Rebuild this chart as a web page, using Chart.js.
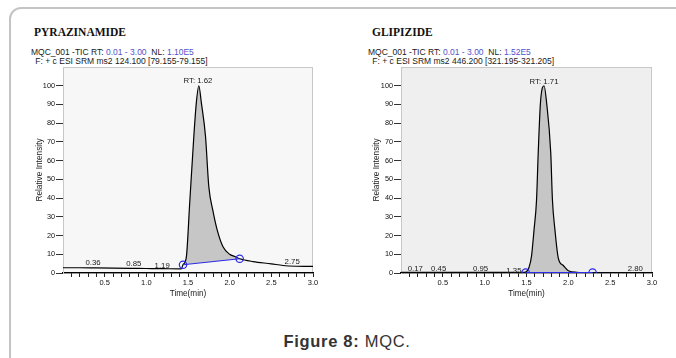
<!DOCTYPE html>
<html>
<head>
<meta charset="utf-8">
<script src="https://cdn.jsdelivr.net/npm/chart.js@4.4.1/dist/chart.umd.min.js"></script>
<style>
  body { margin: 0; width: 676px; height: 358px; overflow: hidden; background: #fff; position: relative; font-family: "Liberation Sans", Arial, sans-serif; }
  .frame { position: absolute; left: 9px; top: 7px; width: 720px; height: 420px; border: 2px solid #c4c4c4; border-radius: 12px; box-sizing: border-box; }
  .ttl { position: absolute; font: bold 11.5px "Liberation Serif", "Times New Roman", serif; color: #111; line-height: 12px; }
  .hdr { position: absolute; font-size: 8.5px; color: #1a1a1a; white-space: pre; line-height: 9px; }
  .hdr .b { color: #5252cc; }
  canvas { position: absolute; }
  .cap { position: absolute; left: 0; width: 694px; top: 332px; text-align: center; font-size: 16.5px; letter-spacing: 0.7px; line-height: 18px; color: #333; }
</style>
</head>
<body>
<div class="frame"></div>

<div class="ttl" style="left:34px; top:26px;">PYRAZINAMIDE</div>
<div class="hdr" style="left:31px; top:48px;">MQC_001 -TIC RT: <span class="b">0.01 - 3.00</span>  NL: <span class="b">1.10E5</span></div>
<div class="hdr" style="left:33px; top:57px;"> F: + c ESI SRM ms2 124.100 [79.155-79.155]</div>

<div class="ttl" style="left:372px; top:26px;">GLIPIZIDE</div>
<div class="hdr" style="left:368px; top:48px;">MQC_001 -TIC RT: <span class="b">0.01 - 3.00</span>  NL: <span class="b">1.52E5</span></div>
<div class="hdr" style="left:370px; top:57px;"> F: + c ESI SRM ms2 446.200 [321.195-321.205]</div>

<canvas id="pyr" width="340" height="245" style="left:0px; top:60px;"></canvas>
<canvas id="gli" width="336" height="245" style="left:340px; top:60px;"></canvas>

<div class="cap"><b>Figure 8:</b> MQC.</div>

<script>
// Pyrazinamide chromatogram (time in min, relative intensity %)
const pyrTime = [0, 0.2, 0.4, 0.6, 0.8, 1.0, 1.2, 1.42, 1.44, 1.48, 1.52, 1.57, 1.60, 1.63, 1.66, 1.71, 1.75, 1.80, 1.85, 1.92, 2.0, 2.06, 2.12, 2.28, 2.5, 2.64, 2.8, 3.0];
const pyrInt  = [2.8, 2.8, 2.7, 2.6, 2.5, 2.4, 2.3, 2.2, 4.4, 8.5, 37, 73, 91, 100, 91, 73, 46, 33, 23, 14, 10, 8.8, 7.6, 6.1, 4.9, 4.0, 3.6, 3.5];
// integration baseline (start, end)
const pyrBaseTime = [1.44, 2.12];
const pyrBaseInt  = [4.4, 7.6];
// apex labels
const pyrLabelTime = [0.36, 0.85, 1.19, 2.75];
const pyrLabelInt  = [5.6, 5.1, 3.9, 6.2];
const pyrRT = [1.62, 102.5];

// Glipizide chromatogram
const gliTime = [0, 0.5, 1.0, 1.45, 1.49, 1.53, 1.56, 1.59, 1.62, 1.64, 1.667, 1.71, 1.74, 1.79, 1.81, 1.84, 1.88, 1.94, 2.0, 2.1, 2.29, 2.6, 3.0];
const gliInt  = [0.3, 0.3, 0.3, 0.3, 0.5, 3, 9, 23, 39, 64, 91, 100, 91, 64, 39, 23, 8, 4, 1.2, 0.4, 0.2, 0.2, 0.2];
const gliBaseTime = [1.49, 2.29];
const gliBaseInt  = [0.2, 0.2];
const gliLabelTime = [0.17, 0.45, 0.95, 1.35, 2.80];
const gliLabelInt  = [2.1, 2.1, 2.1, 1.1, 2.1];
const gliRT = [1.71, 102];

// Axis ticks
const xTicks = [0.1, 0.2, 0.3, 0.4, 0.5, 0.6, 0.7, 0.8, 0.9, 1.0, 1.1, 1.2, 1.3, 1.4, 1.5, 1.6, 1.7, 1.8, 1.9, 2.0,
                2.1, 2.2, 2.3, 2.4, 2.5, 2.6, 2.7, 2.8, 2.9, 3.0];
const yTicks = [0, 10, 20, 30, 40, 50, 60, 70, 80, 90, 100];

const FONT = '"Liberation Sans", Arial, sans-serif';

// Plot box background + light border
const plotBox = {
  id: 'plotBox',
  beforeDraw(chart, args, opts) {
    const { ctx, chartArea: a } = chart;
    ctx.save();
    ctx.fillStyle = opts.bg;
    ctx.fillRect(a.left, a.top, a.right - a.left, a.bottom - a.top);
    ctx.strokeStyle = '#c8c8c8';
    ctx.lineWidth = 1;
    ctx.strokeRect(a.left + 0.5, a.top + 0.5, a.right - a.left - 1, a.bottom - a.top);
    ctx.restore();
  }
};

// Peak time labels drawn at data positions
const peakLabels = {
  id: 'peakLabels',
  afterDatasetsDraw(chart, args, opts) {
    const { ctx, scales: { x, y } } = chart;
    ctx.save();
    ctx.fillStyle = '#1a1a1a';
    ctx.font = '7.8px ' + FONT;
    ctx.textAlign = 'center';
    ctx.textBaseline = 'middle';
    opts.times.forEach((t, i) => {
      ctx.fillText(t.toFixed(2), x.getPixelForValue(t), y.getPixelForValue(opts.ints[i]));
    });
    ctx.fillText('RT: ' + opts.rt[0].toFixed(2), x.getPixelForValue(opts.rt[0]), y.getPixelForValue(opts.rt[1]));
    ctx.restore();
  }
};

function toPoints(xs, ys) {
  return xs.map((v, i) => ({ x: v, y: ys[i] }));
}

function makeChart(id, d) {
  const curve = toPoints(d.time, d.int);
  const peak = curve.filter(p => p.x >= d.baseTime[0] && p.x <= d.baseTime[1]);

  return new Chart(document.getElementById(id), {
    type: 'line',
    data: {
      datasets: [
        {
          // integration baseline with hollow markers
          data: toPoints(d.baseTime, d.baseInt),
          borderColor: '#2b2be8',
          borderWidth: 1.2,
          pointRadius: 3.7,
          pointBorderWidth: 1.2,
          pointBorderColor: '#2b2be8',
          pointBackgroundColor: 'rgba(0,0,0,0)',
          tension: 0,
          fill: false,
        },
        {
          data: curve,
          borderColor: '#000',
          borderWidth: 1.2,
          pointRadius: 0,
          cubicInterpolationMode: 'monotone',
          fill: false,
        },
        {
          // shaded peak area
          data: peak,
          borderWidth: 0,
          borderColor: 'rgba(0,0,0,0)',
          pointRadius: 0,
          cubicInterpolationMode: 'monotone',
          backgroundColor: '#c6c6c6',
          fill: '-2',
        },
      ],
    },
    options: {
      responsive: false,
      animation: false,
      devicePixelRatio: 1,
      layout: { padding: { left: 0, right: d.padRight, top: 7, bottom: 0 } },
      plugins: {
        legend: { display: false },
        tooltip: { enabled: false },
        plotBox: { bg: d.bg },
        peakLabels: { times: d.labelTime, ints: d.labelInt, rt: d.rt },
      },
      scales: {
        x: {
          type: 'linear',
          min: 0,
          max: 3,
          afterBuildTicks: s => { s.ticks = xTicks.map(v => ({ value: v })); },
          afterFit: s => { s.height = 32; },
          ticks: {
            autoSkip: false,
            maxRotation: 0,
            padding: 1,
            color: '#111',
            font: { size: 7.5, family: FONT },
            callback: v => (Math.abs(v * 2 - Math.round(v * 2)) < 1e-6 ? v.toFixed(1) : ''),
          },
          grid: { drawOnChartArea: false, drawTicks: true, tickLength: 4, color: '#222' },
          border: { color: '#000', width: 1.2 },
          title: { display: true, text: 'Time(min)', color: '#1a1a1a', font: { size: 8.2, family: FONT }, padding: { top: 0, bottom: 6 } },
        },
        y: {
          min: 0,
          max: 110,
          afterBuildTicks: s => { s.ticks = yTicks.map(v => ({ value: v })); },
          afterFit: s => { s.width = d.yWidth; },
          ticks: { padding: 1, color: '#111', font: { size: 7.3, family: FONT } },
          grid: { drawOnChartArea: false, drawTicks: true, tickLength: 7, color: '#333' },
          border: { color: '#c8c8c8' },
          title: { display: true, text: 'Relative Intensity', color: '#1a1a1a', font: { size: 8.3, family: FONT }, padding: { top: d.yTitlePad, bottom: 0 } },
        },
      },
    },
    plugins: [plotBox, peakLabels],
  });
}

makeChart('pyr', {
  time: pyrTime, int: pyrInt, baseTime: pyrBaseTime, baseInt: pyrBaseInt,
  labelTime: pyrLabelTime, labelInt: pyrLabelInt, rt: pyrRT,
  bg: '#f7f7f7', yWidth: 63, padRight: 27, yTitlePad: 35,
});

makeChart('gli', {
  time: gliTime, int: gliInt, baseTime: gliBaseTime, baseInt: gliBaseInt,
  labelTime: gliLabelTime, labelInt: gliLabelInt, rt: gliRT,
  bg: '#efefef', yWidth: 61, padRight: 24, yTitlePad: 31.7,
});
</script>
</body>
</html>
